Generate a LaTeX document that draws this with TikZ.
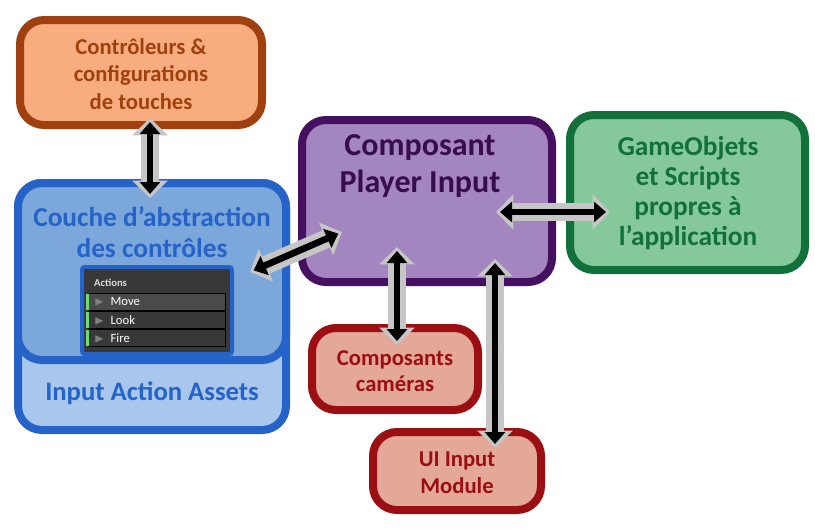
\documentclass[tikz,border=0pt]{standalone}
\usepackage{amssymb}
\usepackage{fontspec}
\setmainfont{Carlito}
\usetikzlibrary{arrows.meta}
\definecolor{orFill}{HTML}{F8AD80}
\definecolor{orLine}{HTML}{A0400E}
\definecolor{blFill}{HTML}{7BA7DB}
\definecolor{blLight}{HTML}{A9C7EC}
\definecolor{blLine}{HTML}{2563C8}
\definecolor{puFill}{HTML}{A385BF}
\definecolor{puLine}{HTML}{451060}
\definecolor{grFill}{HTML}{85C99A}
\definecolor{grLine}{HTML}{12703A}
\definecolor{reFill}{HTML}{E4A898}
\definecolor{reLine}{HTML}{9B0E12}
\definecolor{panel}{HTML}{383838}
\definecolor{panelHi}{HTML}{4A4A4A}
\tikzset{
	box/.style={draw=#1Line, line width=6pt, rounded corners=18pt, fill=#1Fill},
	link/.style={line width=5pt, {Triangle[length=9pt,width=15pt]}-{Triangle[length=9pt,width=15pt]}},
	halo/.style={line width=14pt, line cap=round, gray!45, {Triangle[length=13pt,width=26pt]}-{Triangle[length=13pt,width=26pt]}},
	row/.style={fill=panel, minimum width=103pt, minimum height=12.5pt, text=white, font=\fontsize{9.5}{9.5}\selectfont, text width=97pt, align=left, inner xsep=3pt, inner ysep=0pt}
}
\begin{document}
\begin{tikzpicture}[x=0.75pt, y=-0.75pt]
\useasboundingbox (0,0) rectangle (815,532);
% boxes
\draw[box=or] (20,20) rectangle (262,125);
\node[text=orLine, font=\bfseries\fontsize{17}{20.5}\selectfont, align=center] (ctrl) at (141,74) {Contrôleurs \&\\configurations\\de touches};
\draw[draw=blLine, line width=6pt, rounded corners=18pt, fill=blLight] (18,183) rectangle (286,430);
\node[text=blLine, font=\bfseries\fontsize{20}{22}\selectfont] (assets) at (152,393) {Input Action Assets};
\draw[box=bl] (18,183) rectangle (286,360);
\node[text=blLine, font=\bfseries\fontsize{20.5}{23.5}\selectfont, align=center] (layer) at (152,232) {Couche d’abstraction\\des contrôles};
\draw[box=pu] (302,120) rectangle (552,282);
\node[text=puLine!80!black, font=\bfseries\fontsize{24}{28}\selectfont, align=center] (player) at (420,166) {Composant\\Player Input};
\draw[box=gr] (570,115) rectangle (805,270);
\node[text=grLine, font=\bfseries\fontsize{20.5}{22.5}\selectfont, align=center] (game) at (688,193) {GameObjets\\et Scripts\\propres à\\l’application};
\draw[box=re] (312,328) rectangle (478,410);
\node[text=reLine, font=\bfseries\fontsize{17}{20}\selectfont, align=center] (cam) at (395,371) {Composants\\caméras};
\draw[box=re] (373,432) rectangle (541,510);
\node[text=reLine, font=\bfseries\fontsize{17}{20}\selectfont, align=center] (ui) at (457,473) {UI Input\\Module};
% actions panel
\draw[draw=blLine, line width=3pt, rounded corners=2pt, fill=panel] (82,267) rectangle (232,354);
\node[row, font=\bfseries\fontsize{8}{8}\selectfont, text=white!85!black] (acts) at (157,283) {\,Actions};
\foreach \n/\y/\c in {Move/302/panelHi, Look/320/panel, Fire/338/panel} {
	\node[row, draw=black, fill=\c] (a\n) at (157,\y) {\,\textcolor{gray}{$\blacktriangleright$}\, \n};
	\fill[green!60!gray!70] (86,\y-8) rectangle (89,\y+8);
}
% links
\coordinate (c1) at (150,118);  \coordinate (c2) at (150,198);
\coordinate (l1) at (250,272);  \coordinate (l2) at (342,232);
\coordinate (p1) at (496,212);  \coordinate (p2) at (610,212);
\coordinate (k1) at (397,247);  \coordinate (k2) at (397,345);
\coordinate (u1) at (495,259);  \coordinate (u2) at (495,448);
\foreach \s/\t in {c1/c2, l1/l2, p1/p2, k1/k2, u1/u2} {
	\draw[halo] (\s) -- (\t);
	\draw[link, shorten <=3pt, shorten >=3pt] (\s) -- (\t);
}
\end{tikzpicture}
\end{document}
